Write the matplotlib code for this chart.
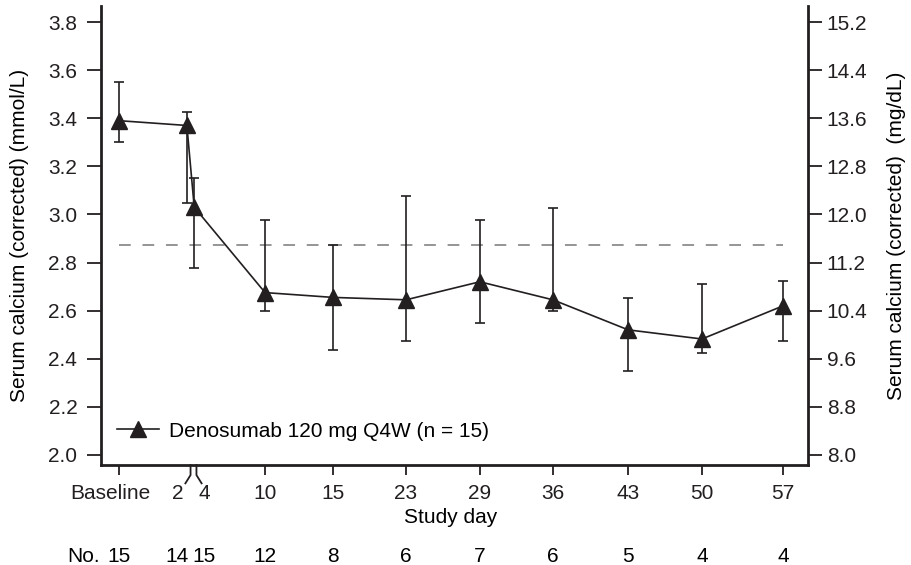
import matplotlib
matplotlib.use("Agg")
import matplotlib.pyplot as plt
import matplotlib.transforms as mtransforms

plt.rcParams['font.family'] = ['Liberation Sans', 'DejaVu Sans']
plt.rcParams['font.size'] = 15

# data (serum calcium, corrected, mmol/L)
days = ['Baseline', '2', '4', '10', '15', '23', '29', '36', '43', '50', '57']
mean = [3.39, 3.37, 3.03, 2.675, 2.655, 2.645, 2.72, 2.645, 2.52, 2.482, 2.62]
upper = [3.55, 3.425, 3.15, 2.975, 2.873, 3.076, 2.975, 3.027, 2.652, 2.71, 2.723]
lower = [3.30, 3.047, 2.777, 2.598, 2.436, 2.474, 2.549, 2.598, 2.35, 2.424, 2.474]
n_patients = [15, 14, 15, 12, 8, 6, 7, 6, 5, 4, 4]
uln = 2.875

# x slots on the broken axis
xpos = [0, 0.92, 1.02, 1.98, 2.90, 3.89, 4.89, 5.88, 6.90, 7.90, 9.0]
label_pos = [0, 0.79, 1.15] + xpos[3:]

col = '#231f20'

fig = plt.figure(figsize=(9.12, 5.65), dpi=100)
ax = fig.add_axes([0.1107, 0.177, 0.7752, 0.812])

yerr = [[m - lo for m, lo in zip(mean, lower)], [u - m for m, u in zip(mean, upper)]]
ax.errorbar(xpos, mean, yerr=yerr, fmt='none', ecolor=col, elinewidth=1.2,
            capsize=3.3, capthick=1.2, zorder=3)
ax.plot(xpos, mean, '-', marker='^', color=col, lw=1.2, ms=11,
        label='Denosumab 120 mg Q4W (n = 15)', zorder=4)
ax.plot([xpos[0], xpos[-1]], [uln, uln], color='#8c8c8c', lw=1.3,
        linestyle=(0, (6.5, 6.5)), zorder=2)

ax.set_xlim(-0.244, 9.336)
ax.set_ylim(1.958, 3.866)
ax.set_yticks([2.0 + 0.2 * i for i in range(10)])
ax.yaxis.set_major_formatter(matplotlib.ticker.FormatStrFormatter('%.1f'))
ax.set_xticks(label_pos)
ax.set_xticklabels(days)
for i in (1, 2):
    ax.xaxis.get_major_ticks()[i].tick1line.set_visible(False)

ax.spines['top'].set_visible(False)
ax.spines['right'].set_visible(False)
for s in ('left', 'bottom'):
    ax.spines[s].set_linewidth(2.0)
    ax.spines[s].set_color(col)
ax.tick_params(axis='y', length=10, width=1.3, pad=7, colors=col)
ax.tick_params(axis='x', length=7, width=1.3, pad=7, colors=col)

# shift "Baseline" a little left of its tick, as in the source
base_lbl = ax.get_xticklabels()[0]
base_lbl.set_transform(base_lbl.get_transform() +
                       mtransforms.ScaledTranslation(-6 / 72, 0, fig.dpi_scale_trans))

# axis break marks at day 2 / day 4
tr = mtransforms.blended_transform_factory(ax.transData, ax.transAxes)
for x, d in ((xpos[1] + 0.05, -1), (xpos[2] + 0.03, 1)):
    ax.plot([x, x, x + d * 0.07], [0, -0.022, -0.04], color=col, lw=1.3,
            transform=tr, clip_on=False)

ax.set_ylabel('Serum calcium (corrected) (mmol/L)')
ax.yaxis.set_label_coords(-0.102, 0.5)
ax.set_xlabel('Study day')
ax.xaxis.set_label_coords(0.494, -0.094)

# patient counts
ax.text(-0.48, -0.2, 'No.', transform=tr, ha='center', va='center')
for x, n in zip(label_pos, n_patients):
    ax.text(x, -0.2, str(n), transform=tr, ha='center', va='center')

ax.legend(loc='lower left', bbox_to_anchor=(0.0226, 0.053), frameon=False,
          borderaxespad=0, borderpad=0, handlelength=2.0, handletextpad=0.5,
          numpoints=1)

ax2 = ax.twinx()
ax2.set_ylim(1.958 * 4, 3.866 * 4)
ax2.set_yticks([8.0 + 0.8 * i for i in range(10)])
ax2.yaxis.set_major_formatter(matplotlib.ticker.FormatStrFormatter('%.1f'))
for s in ('top', 'left', 'bottom'):
    ax2.spines[s].set_visible(False)
ax2.spines['right'].set_linewidth(2.0)
ax2.spines['right'].set_color(col)
ax2.tick_params(axis='y', length=10, width=1.3, pad=3.5, colors=col)
ax2.set_ylabel('Serum calcium (corrected)  (mg/dL)')
ax2.yaxis.set_label_coords(1.112, 0.5)

fig.savefig('out.png', dpi=100)
